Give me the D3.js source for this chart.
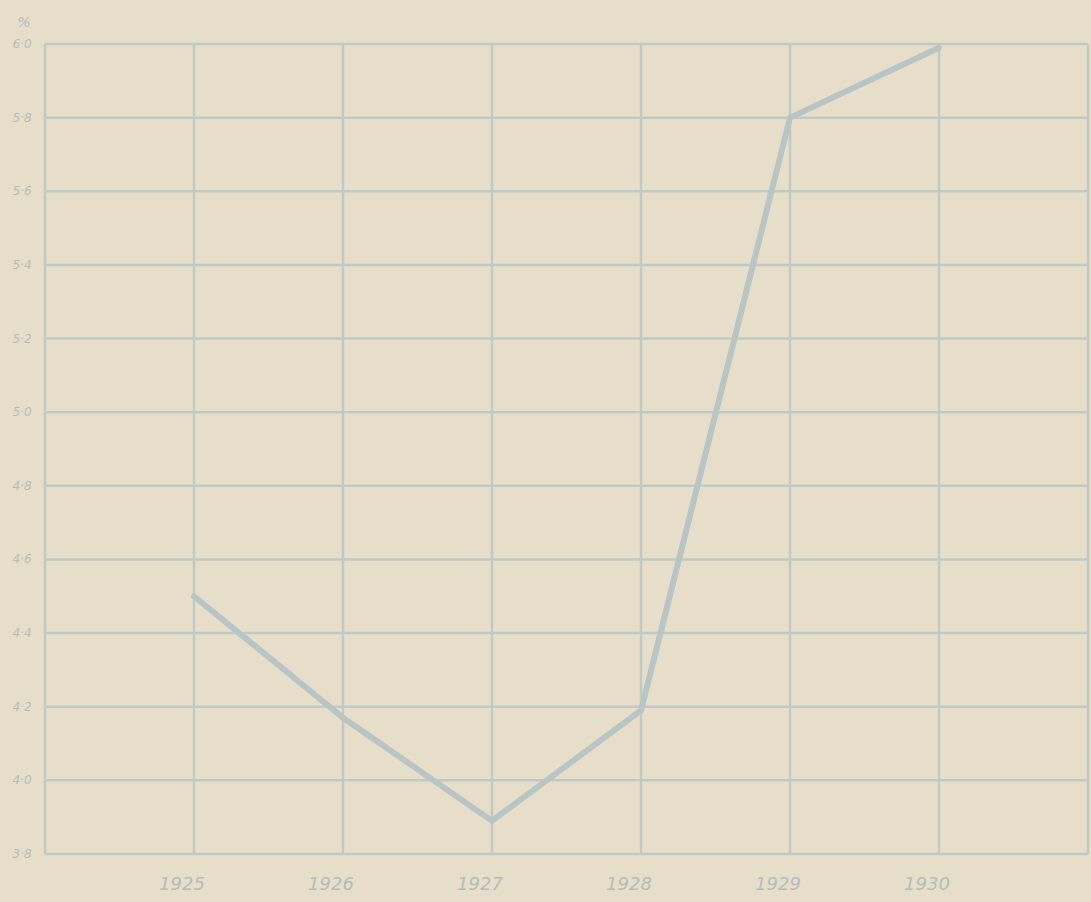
<!DOCTYPE html>
<html>
<head>
<meta charset="utf-8">
<script src="https://cdn.jsdelivr.net/npm/d3@7"></script>
<style>
  body { margin: 0; background: #e7dec9; }
  svg { display: block; }
  .lbl { font-family: "DejaVu Sans", sans-serif; font-style: italic; fill: #b2bdbb; }
</style>
</head>
<body>
<div id="chart"></div>
<script>
// data (percent)
var years = [1925, 1926, 1927, 1928, 1929, 1930];
var values = [4.50, 4.17, 3.89, 4.19, 5.80, 5.99];
var yTicks = [3.8, 4.0, 4.2, 4.4, 4.6, 4.8, 5.0, 5.2, 5.4, 5.6, 5.8, 6.0];
var xGrid = [1924, 1925, 1926, 1927, 1928, 1929, 1930, 1931];

var w = 1091;
var h = 902;
// plot edges (note: "top" is taken by window.top)
var padLeft = 45, padRight = 1088, padTop = 44, padBottom = 854;

var gridColor = "#c0cac5";
var lineColor = "#b8c5c5";

var xScale = d3.scaleLinear().domain([1924, 1931]).range([padLeft, padRight]);
var yScale = d3.scaleLinear().domain([3.8, 6.0]).range([padBottom, padTop]);

var svg = d3.select("#chart")
    .append("svg")
    .attr("width", w)
    .attr("height", h);

svg.append("rect")
    .attr("width", w)
    .attr("height", h)
    .attr("fill", "#e7dec9");

// horizontal grid
svg.append("g")
    .selectAll("line")
    .data(yTicks)
    .enter()
    .append("line")
    .attr("x1", padLeft)
    .attr("x2", padRight)
    .attr("y1", function(d) { return yScale(d); })
    .attr("y2", function(d) { return yScale(d); })
    .attr("stroke", gridColor)
    .attr("stroke-width", 2.5);

// vertical grid
svg.append("g")
    .selectAll("line")
    .data(xGrid)
    .enter()
    .append("line")
    .attr("x1", function(d) { return xScale(d); })
    .attr("x2", function(d) { return xScale(d); })
    .attr("y1", padTop)
    .attr("y2", padBottom)
    .attr("stroke", gridColor)
    .attr("stroke-width", 2.5);

// y labels
svg.append("g")
    .selectAll("text")
    .data(yTicks)
    .enter()
    .append("text")
    .attr("class", "lbl")
    .attr("x", 22)
    .attr("y", function(d) { return yScale(d) + 4; })
    .attr("text-anchor", "middle")
    .style("font-size", "12px")
    .text(function(d) { return d.toFixed(1).replace(".", "·"); });

svg.append("text")
    .attr("class", "lbl")
    .attr("x", 24)
    .attr("y", 27)
    .attr("text-anchor", "middle")
    .style("font-size", "14px")
    .text("%");

// x labels
svg.append("g")
    .selectAll("text")
    .data(years)
    .enter()
    .append("text")
    .attr("class", "lbl")
    .attr("x", function(d) { return xScale(d) - 12; })
    .attr("y", 890)
    .attr("text-anchor", "middle")
    .style("font-size", "18px")
    .text(function(d) { return d; });

// the line
var line = d3.line()
    .x(function(d, i) { return xScale(years[i]); })
    .y(function(d) { return yScale(d); });

svg.append("path")
    .datum(values)
    .attr("d", line)
    .attr("fill", "none")
    .attr("stroke", lineColor)
    .attr("stroke-width", 6)
    .attr("stroke-linejoin", "round")
    .attr("stroke-linecap", "round");
</script>
</body>
</html>
